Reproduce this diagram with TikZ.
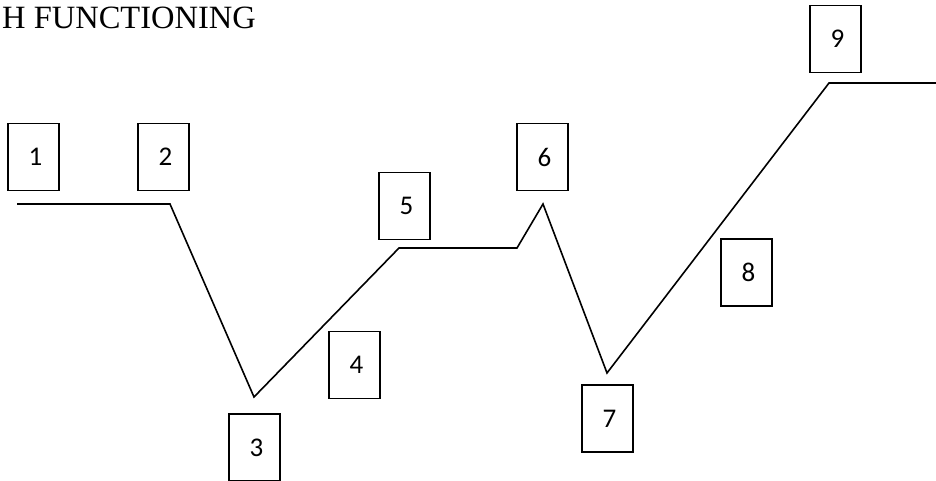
\documentclass[tikz,border=0pt]{standalone}
\usepackage{fontspec}
\setmainfont{Liberation Serif}
\newfontfamily\boxfont{Carlito}
\begin{document}
\begin{tikzpicture}[x=1pt,y=-1pt,
  numbox/.style={draw,line width=1.5pt,minimum width=51pt,minimum height=67pt,inner sep=0pt,
    font=\boxfont\fontsize{27}{30}\selectfont},
  curve/.style={line width=1.6pt,line join=miter}]
\useasboundingbox (0,0) rectangle (936,481);
\node[anchor=base west,inner sep=0pt,font=\fontsize{32.5}{36}\selectfont] (title) at (2,29) {H FUNCTIONING};
\node[numbox] (b1) at (33.5,157) {\hspace*{4pt}1};
\node[numbox] (b2) at (163.5,157) {\hspace*{4pt}2};
\node[numbox] (b3) at (254.5,447.5) {\hspace*{4pt}3};
\node[numbox] (b4) at (354.5,365) {\hspace*{4pt}4};
\node[numbox] (b5) at (404.5,206) {\hspace*{4pt}5};
\node[numbox] (b6) at (542.5,157) {\hspace*{4pt}6};
\node[numbox] (b7) at (607.5,418.5) {\hspace*{4pt}7};
\node[numbox] (b8) at (746.5,272.5) {\hspace*{4pt}8};
\node[numbox] (b9) at (835.5,39) {\hspace*{4pt}9};
\coordinate (p0) at (17,204);
\coordinate (p1) at (170,204);
\coordinate (p2) at (254,397);
\coordinate (p3) at (399,248);
\coordinate (p4) at (517,248);
\coordinate (p5) at (543,204);
\coordinate (p6) at (607,373);
\coordinate (p7) at (829,83);
\coordinate (p8) at (936,83);
\draw[curve] (p0) -- (p1) -- (p2) -- (p3) -- (p4) -- (p5) -- (p6) -- (p7) -- (p8);
\end{tikzpicture}
\end{document}
